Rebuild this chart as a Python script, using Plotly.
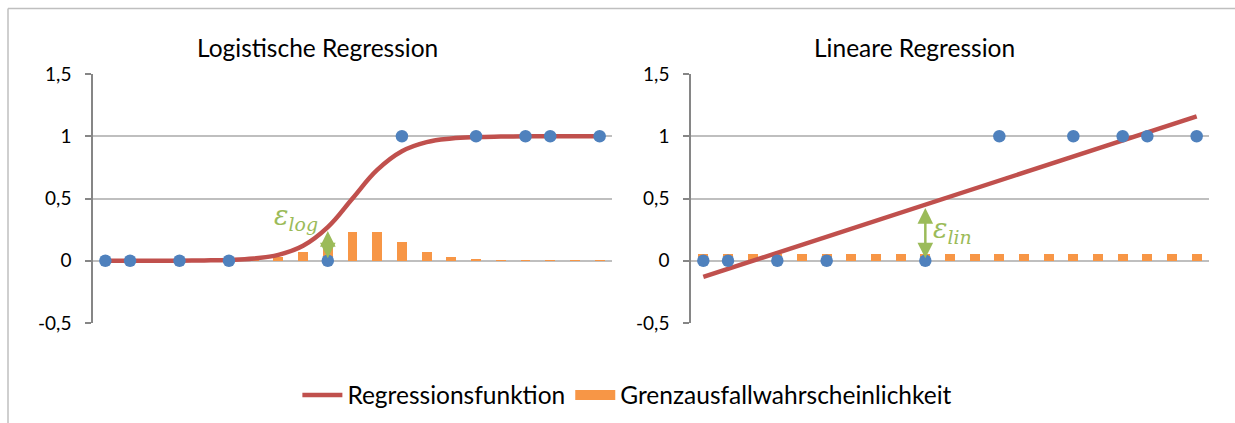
import plotly.graph_objects as go

# x positions (category index 0..20)
positions = list(range(21))

# observed defaults (0 = no default, 1 = default)
obs_x = [0, 1, 3, 5, 9, 12, 15, 17, 18, 20]
obs_y = [0, 0, 0, 0, 0, 1, 1, 1, 1, 1]

# logistic regression curve
log_curve = [0.0, 0.0, 0.0, 0.001, 0.003, 0.007, 0.018, 0.047, 0.12, 0.27,
             0.5, 0.73, 0.88, 0.953, 0.982, 0.993, 0.997, 0.999, 1.0, 1.0, 1.0]

# linear regression line, end points
lin_x = [0, 20]
lin_y = [-0.13, 1.16]

# marginal default probability bars
pd_log = [0.0, 0.0, 0.0, 0.0, 0.001, 0.003, 0.012, 0.033, 0.07, 0.15, 0.23,
          0.23, 0.15, 0.07, 0.03, 0.012, 0.005, 0.002, 0.001, 0.001, 0.001]
pd_lin = [0.055] * 21

y_ticks = [-0.5, 0, 0.5, 1, 1.5]
y_tick_text = ["-0,5", "0", "0,5", "1", "1,5"]

BLUE = "#4F81BD"
RED = "#C0504D"
ORANGE = "#F79646"
GREEN = "#9BBB59"
GRID = "#BFBFBF"
FONT = "Lato"

W, H = 1235, 423

fig = go.Figure()

# left chart
fig.add_trace(go.Bar(x=positions, y=pd_log, width=0.4, marker=dict(color=ORANGE, line=dict(width=0)),
                     showlegend=False, xaxis="x", yaxis="y"))
fig.add_trace(go.Scatter(x=positions, y=log_curve, mode="lines",
                         line=dict(color=RED, width=4.5, shape="spline", smoothing=1.2),
                         name="Regressionsfunktion", xaxis="x", yaxis="y"))
fig.add_trace(go.Scatter(x=obs_x, y=obs_y, mode="markers", marker=dict(color=BLUE, size=12.5),
                         showlegend=False, xaxis="x", yaxis="y"))

# right chart
fig.add_trace(go.Bar(x=positions, y=pd_lin, width=0.4, marker=dict(color=ORANGE, line=dict(width=0)),
                     showlegend=False, xaxis="x2", yaxis="y2"))
fig.add_trace(go.Scatter(x=lin_x, y=lin_y, mode="lines", line=dict(color=RED, width=4.5),
                         showlegend=False, xaxis="x2", yaxis="y2"))
fig.add_trace(go.Scatter(x=obs_x, y=obs_y, mode="markers", marker=dict(color=BLUE, size=12.5),
                         showlegend=False, xaxis="x2", yaxis="y2"))

# legend entry for the bars (wide orange sample like the original)
fig.add_trace(go.Scatter(x=[None], y=[None], mode="lines", line=dict(color=ORANGE, width=10),
                         name="Grenzausfallwahrscheinlichkeit", xaxis="x", yaxis="y"))

y_bottom = (H - 323) / H
y_top = (H - 74) / H

xax = dict(range=[-0.5, 20.5], showgrid=False, zeroline=False, showline=False,
           showticklabels=False, ticks="", fixedrange=True)
yax = dict(range=[-0.5, 1.5], domain=[y_bottom, y_top], tickvals=y_ticks, ticktext=y_tick_text,
           showgrid=True, gridcolor=GRID, gridwidth=1.5, zeroline=False,
           showline=True, linecolor="#868686", linewidth=1.5,
           ticks="outside", ticklen=6, tickcolor="#868686", tickwidth=1.5,
           ticklabelstandoff=10, tickfont=dict(family=FONT, size=19, color="#000000"),
           automargin=False)

fig.update_layout(
    width=W, height=H,
    margin=dict(l=0, r=0, t=0, b=0, autoexpand=False),
    paper_bgcolor="white", plot_bgcolor="white",
    font=dict(family=FONT, color="#000000"),
    bargap=0,
    xaxis=dict(xax, domain=[93 / W, 612 / W]),
    yaxis=dict(yax, anchor="x"),
    xaxis2=dict(xax, domain=[691 / W, 1209 / W]),
    yaxis2=dict(yax, anchor="x2"),
    legend=dict(orientation="h", x=0.508, xanchor="center", y=1 - 395 / H, yanchor="middle",
                font=dict(family=FONT, size=24.5, color="#000000"), itemwidth=40),
    showlegend=True,
)

annotations = [
    dict(text="Logistische Regression", x=317 / W, y=1 - 47 / H, xref="paper", yref="paper",
         xanchor="center", yanchor="middle", showarrow=False,
         font=dict(family=FONT, size=24.5, color="#000000")),
    dict(text="Lineare Regression", x=914 / W, y=1 - 47 / H, xref="paper", yref="paper",
         xanchor="center", yanchor="middle", showarrow=False,
         font=dict(family=FONT, size=24.5, color="#000000")),
    # error arrows
    dict(x=9, y=0.02, ax=9, ay=0.25, xref="x", yref="y", axref="x", ayref="y", text="",
         showarrow=True, arrowhead=2, startarrowhead=2, arrowside="end+start",
         arrowcolor=GREEN, arrowwidth=2.5, arrowsize=1.25, startarrowsize=1.25),
    dict(x=9, y=0.02, ax=9, ay=0.435, xref="x2", yref="y2", axref="x2", ayref="y2", text="",
         showarrow=True, arrowhead=2, startarrowhead=2, arrowside="end+start",
         arrowcolor=GREEN, arrowwidth=2.5, arrowsize=1.25, startarrowsize=1.25),
    dict(text="<i>ε<sub>log</sub></i>", x=7.73, y=0.35, xref="x", yref="y", showarrow=False,
         font=dict(family="DejaVu Serif", size=27, color=GREEN)),
    dict(text="<i>ε<sub>lin</sub></i>", x=10.1, y=0.24, xref="x2", yref="y2", showarrow=False,
         font=dict(family="DejaVu Serif", size=27, color=GREEN)),
]
fig.update_layout(annotations=annotations)

# outer chart frame
fig.add_shape(type="line", xref="paper", yref="paper", x0=8 / W, x1=1, y0=1 - 8.5 / H, y1=1 - 8.5 / H,
              line=dict(color=GRID, width=1.5))
fig.add_shape(type="line", xref="paper", yref="paper", x0=8 / W, x1=8 / W, y0=0, y1=1 - 8.5 / H,
              line=dict(color=GRID, width=1.5))

fig.write_html("out.html", config={"displayModeBar": False},
               post_script="document.body.style.margin='0';")
